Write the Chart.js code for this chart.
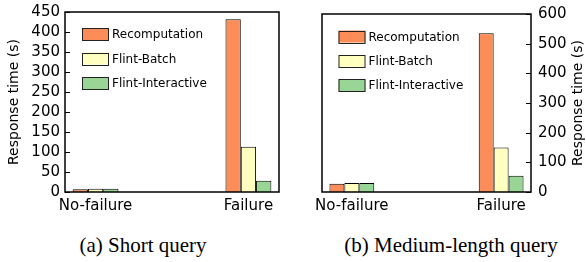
<!DOCTYPE html>
<html>
<head>
<meta charset="utf-8">
<script src="https://cdn.jsdelivr.net/npm/chart.js@4.4.1/dist/chart.umd.min.js"></script>
<style>
  html, body { margin: 0; padding: 0; background: #fff; }
  body { width: 586px; height: 262px; position: relative; overflow: hidden; }
  canvas { position: absolute; top: 0; }
  #chartA { left: 0; }
  #chartB { left: 293px; }
  .caption {
    position: absolute; top: 235px; width: 260px; text-align: center;
    font-family: "Liberation Serif", "Times New Roman", serif; font-size: 21px;
    line-height: 21px; color: #000;
  }
</style>
</head>
<body>
<canvas id="chartA" width="293" height="225"></canvas>
<canvas id="chartB" width="293" height="225"></canvas>
<div class="caption" style="left:13px">(a) Short query</div>
<div class="caption" style="left:321px">(b) Medium-length query</div>
<script>
// Data
const categories = ['No-failure', 'Failure'];
const seriesNames = ['Recomputation', 'Flint-Batch', 'Flint-Interactive'];
const seriesColors = ['#fc8d59', '#ffffbf', '#99d594'];

// (a) Short query, seconds
const shortRecomputation = [7, 432];
const shortFlintBatch = [8, 113];
const shortFlintInteractive = [8, 28];

// (b) Medium-length query, seconds
const mediumRecomputation = [28, 535];
const mediumFlintBatch = [30, 150];
const mediumFlintInteractive = [30, 55];

const FONT = 'DejaVu Sans';

/**
 * Draws the box around the plot and the inward tick marks on the y axis
 */
const framePlugin = {
  id: 'frame',
  afterDatasetsDraw(chart, args, opts) {
    const { ctx, chartArea: a } = chart;
    const y = chart.scales.y;
    ctx.save();
    ctx.strokeStyle = '#000';
    ctx.lineWidth = 1;
    y.ticks.forEach((t) => {
      const py = Math.round(y.getPixelForValue(t.value)) + 0.5;
      ctx.beginPath();
      if (opts.side === 'right') {
        ctx.moveTo(a.right - 5, py);
        ctx.lineTo(a.right, py);
      } else {
        ctx.moveTo(a.left, py);
        ctx.lineTo(a.left + 5, py);
      }
      ctx.stroke();
    });
    ctx.lineWidth = 1.5;
    ctx.strokeRect(a.left, a.top, a.right - a.left, a.bottom - a.top);
    ctx.restore();
  },
};

/**
 * Legend drawn inside the plot, top left
 */
const innerLegendPlugin = {
  id: 'innerLegend',
  afterDraw(chart, args, opts) {
    const { ctx, chartArea: a } = chart;
    ctx.save();
    ctx.font = `12px "${FONT}"`;
    ctx.textBaseline = 'middle';
    chart.data.datasets.forEach((ds, i) => {
      const cy = a.top + opts.firstRow + i * opts.rowGap;
      const x0 = a.left + opts.indent;
      ctx.fillStyle = ds.backgroundColor;
      ctx.fillRect(x0, cy - 6, 27, 12);
      ctx.strokeStyle = '#222';
      ctx.lineWidth = 1;
      ctx.strokeRect(x0 + 0.5, Math.round(cy - 6) + 0.5, 26, 12);
      ctx.fillStyle = '#000';
      ctx.fillText(ds.label, x0 + 30, cy + 1);
    });
    ctx.restore();
  },
};

/**
 * Right-side axis title, reading bottom to top
 */
const rightTitlePlugin = {
  id: 'rightTitle',
  afterDraw(chart, args, opts) {
    if (!opts.text) return;
    const { ctx, chartArea: a } = chart;
    ctx.save();
    ctx.translate(chart.scales.y.right - 8, (a.top + a.bottom) / 2);
    ctx.rotate(-Math.PI / 2);
    ctx.font = `14px "${FONT}"`;
    ctx.fillStyle = '#000';
    ctx.textAlign = 'center';
    ctx.textBaseline = 'middle';
    ctx.fillText(opts.text, 0, 0);
    ctx.restore();
  },
};

function buildDatasets(seriesValues) {
  return seriesValues.map((values, s) => ({
    label: seriesNames[s],
    data: categories.map((c, i) => ({ x: i, y: values[i] })),
    backgroundColor: seriesColors[s],
    borderColor: '#000',
    borderWidth: 1,
    categoryPercentage: 0.3,
    barPercentage: 1,
  }));
}

function makeChart(canvasId, seriesValues, opts) {
  const { side, max, step, padding, yWidth, xHeight, legend } = opts;
  return new Chart(document.getElementById(canvasId), {
    type: 'bar',
    data: { datasets: buildDatasets(seriesValues) },
    options: {
      responsive: false,
      animation: false,
      layout: { padding },
      plugins: {
        legend: { display: false },
        tooltip: { enabled: false },
        frame: { side },
        innerLegend: legend,
        rightTitle: { text: side === 'right' ? 'Response time (s)' : '' },
      },
      scales: {
        x: {
          type: 'linear',
          offset: false,
          bounds: 'data',
          min: -0.2,
          max: 1.2,
          grid: { display: false, drawTicks: false, offset: false },
          border: { display: false },
          afterBuildTicks: (s) => {
            s.ticks = categories.map((c, i) => ({ value: i }));
          },
          afterFit: (s) => {
            s.height = xHeight;
            s.paddingLeft = 0;
            s.paddingRight = 0;
          },
          ticks: {
            padding: 5,
            autoSkip: false,
            maxRotation: 0,
            color: '#000',
            font: { family: FONT, size: 15 },
            callback: (v) => categories[v],
          },
        },
        y: {
          position: side,
          min: 0,
          max,
          grid: { display: false, drawTicks: false },
          border: { display: false },
          afterFit: (s) => {
            s.width = yWidth;
            s.paddingTop = 0;
            s.paddingBottom = 0;
          },
          ticks: {
            stepSize: step,
            autoSkip: false,
            padding: side === 'right' ? 7 : 5,
            color: '#000',
            font: { family: FONT, size: 15 },
          },
          title: {
            display: side === 'left',
            text: 'Response time (s)',
            color: '#000',
            font: { family: FONT, size: 14 },
            padding: { top: 6, bottom: 0 },
          },
        },
      },
    },
    plugins: [framePlugin, innerLegendPlugin, rightTitlePlugin],
  });
}

makeChart('chartA', [shortRecomputation, shortFlintBatch, shortFlintInteractive], {
  side: 'left',
  max: 450,
  step: 50,
  padding: { top: 12, right: 14, bottom: 0, left: 0 },
  yWidth: 65,
  xHeight: 33,
  legend: { indent: 17, firstRow: 22, rowGap: 24.5 },
});

makeChart('chartB', [mediumRecomputation, mediumFlintBatch, mediumFlintInteractive], {
  side: 'right',
  max: 600,
  step: 100,
  padding: { top: 14, right: 0, bottom: 0, left: 29 },
  yWidth: 55,
  xHeight: 33,
  legend: { indent: 16.5, firstRow: 22.5, rowGap: 24.3 },
});
</script>
</body>
</html>
